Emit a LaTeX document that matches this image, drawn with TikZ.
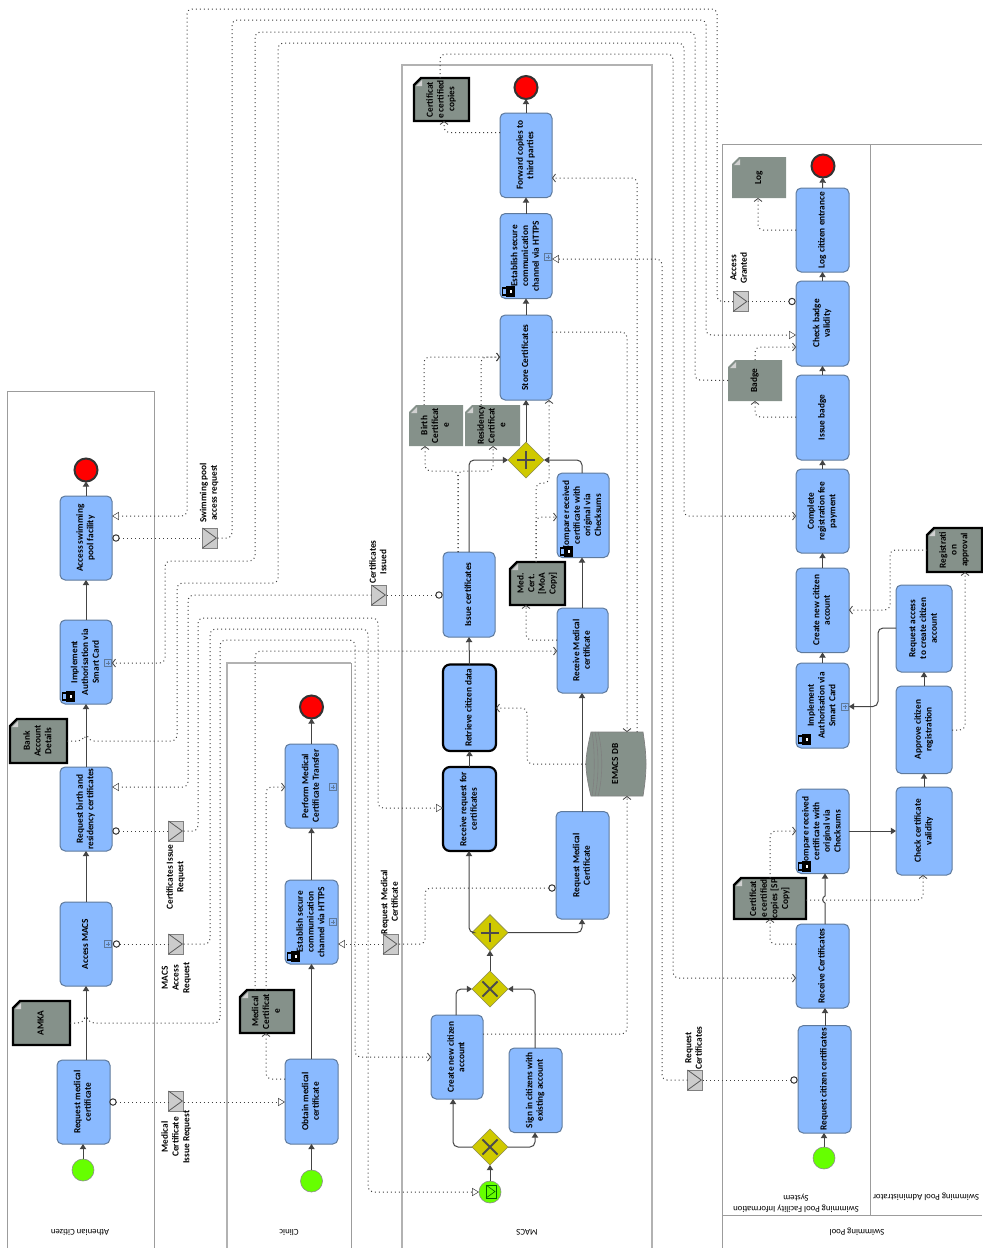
\documentclass[tikz,border=0pt]{standalone}
\usepackage{fontspec}
\setmainfont{Carlito}
\usetikzlibrary{arrows.meta,shapes.geometric,calc}
\definecolor{taskc}{HTML}{8ABAFF}
\definecolor{taskb}{HTML}{5F7A9C}
\definecolor{docc}{HTML}{85918A}
\definecolor{gatec}{HTML}{CFC900}
\definecolor{gateb}{HTML}{8C8C50}
\definecolor{lanec}{HTML}{9C9C9C}
\definecolor{flowc}{HTML}{444444}
\tikzset{
 taskbox/.style={draw=taskb,fill=taskc,line width=.5pt,rounded corners=2.6pt,inner sep=0pt,outer sep=0pt},
 thicktask/.style={draw=black,line width=1.1pt,rounded corners=3.5pt},
 labelnode/.style={inner sep=0pt,outer sep=0pt},
 envbox/.style={draw=black!50,fill=black!20,line width=.4pt,inner sep=0pt,outer sep=0pt,minimum width=7.5pt,minimum height=10pt},
 startev/.style={circle,draw=black!45,line width=.3pt,minimum size=11pt,inner sep=0pt,outer sep=0pt,fill={rgb,255:red,102;green,255;blue,0}},
 endev/.style={circle,draw=black!80,fill=red,line width=1pt,minimum size=11.5pt,inner sep=0pt,outer sep=0pt},
 gateway/.style={diamond,aspect=1,draw=gateb,fill=gatec,line width=.3pt,minimum size=18pt,inner sep=0pt,outer sep=0pt},
 gatemark/.style={draw=black!70,line width=.9pt},
 flow/.style={draw=flowc,line width=.5pt,rounded corners=2.5pt,-{Triangle[length=2.6pt,width=3.2pt]}},
 msgbase/.style={draw=black!75,line width=.5pt,rounded corners=2.5pt,dash pattern=on .5pt off 1.5pt},
 msg/.style={msgbase,-{Triangle[open,fill=white,length=3.4pt,width=4pt,line width=.25pt]}},
 assoc/.style={msgbase,-{Straight Barb[length=1.5pt,width=4pt,line width=.4pt]}},
 plainmsg/.style={msgbase},
 mcirc/.style={circle,draw=black!80,fill=white,line width=.5pt,minimum size=3.2pt,inner sep=0pt,outer sep=0pt},
 lane/.style={draw=lanec,line width=.5pt},
 lanelt/.style={draw=black!30,line width=.6pt},
}
\newcommand{\txt}[1]{\rotatebox{90}{\fontsize{4.65}{5.35}\bfseries\selectfont\begin{tabular}{@{}c@{}}#1\end{tabular}}}
\newcommand{\plainlbl}[1]{\fontsize{4.4}{5.35}\selectfont\begin{tabular}{@{}c@{}}#1\end{tabular}}
% task: opts name x1 y1 x2 y2 text
\newcommand{\tsk}[7][]{%
 \pgfmathsetmacro\tkx{(#3+#5)/2}\pgfmathsetmacro\tky{(#4+#6)/2}%
 \pgfmathsetmacro\tkw{(#5-#3)*.5}\pgfmathsetmacro\tkh{(#6-#4)*.5}%
 \node[taskbox,minimum width=\tkw pt,minimum height=\tkh pt,#1] (#2) at (\tkx,\tky) {\txt{#7}};}
% data object: border-style name x1 y1 x2 y2 text
\newcommand{\docn}[7][draw=none]{%
 \pgfmathsetmacro\tkx{(#3+#5)/2}\pgfmathsetmacro\tky{(#4+#6)/2}%
 \pgfmathsetmacro\tkw{(#5-#3)*.5}\pgfmathsetmacro\tkh{(#6-#4)*.5}%
 \path[fill=docc,#1] (#3+7,#4) -- (#5,#4) -- (#5,#6) -- (#3,#6) -- (#3,#4+7) -- cycle;
 \fill[black!18] (#3+2,#4+8) -- (#3+8,#4+8) -- (#3+8,#4+2) -- cycle;
 \node[labelnode,minimum width=\tkw pt,minimum height=\tkh pt] (#2) at (\tkx,\tky) {\txt{#7}};}
\newcommand{\envn}[3]{%
 \node[envbox] (#1) at (#2,#3) {};
 \draw[black!65,line width=.4pt] (#1.north west) -- ($(#1.east)+(-.6pt,0)$) -- (#1.south west);}
\newcommand{\lockn}[2]{% top-left x y of icon
 \fill[black] (#1+4,#2) rectangle (#1+13,#2+11);
 \draw[black,line width=.6pt] (#1+4,#2+2) -- (#1+.6,#2+2) -- (#1+.6,#2+9) -- (#1+4,#2+9);
 \fill[white] (#1+7.5,#2+4) rectangle (#1+10,#2+7);}
\newcommand{\subm}[2]{%
 \draw[taskb,line width=.35pt] (#1-3.5,#2-3.5) rectangle (#1+3.5,#2+3.5);
 \draw[taskb,line width=.3pt] (#1-2,#2) -- (#1+2,#2) (#1,#2-2) -- (#1,#2+2);}
\newcommand{\plusm}[1]{\draw[gatemark] ($(#1.center)+(-4.6pt,0)$) -- ($(#1.center)+(4.6pt,0)$) ($(#1.center)+(0,-4.6pt)$) -- ($(#1.center)+(0,4.6pt)$);}
\newcommand{\crossm}[1]{\draw[gatemark] ($(#1.center)+(-3.8pt,-3.8pt)$) -- ($(#1.center)+(3.8pt,3.8pt)$) ($(#1.center)+(-3.8pt,3.8pt)$) -- ($(#1.center)+(3.8pt,-3.8pt)$);}
\begin{document}
\begin{tikzpicture}[x=.5pt,y=-.5pt]
\useasboundingbox[fill=white] (0,0) rectangle (982,1248);
% lanes
\draw[lane] (7,1248) -- (7,391) -- (154,391) -- (154,1248);
\draw[lanelt] (227,1248) -- (227,663) -- (351,663);
\draw[lane] (351,663) -- (351,1248);
\draw[lanelt] (402,1248) -- (402,65) -- (652,65) -- (652,1248);
\draw[lane] (722,1248) -- (722,144) -- (982,144);
\draw[lane] (870,144) -- (870,1215);
\draw[lane] (722,1215) -- (982,1215);
\node[labelnode,rotate=180] (lA) at (80,1232) {\plainlbl{Athenian Citizen}};
\node[labelnode,rotate=180] (lB) at (289,1232) {\plainlbl{Clinic}};
\node[labelnode,rotate=180] (lC) at (527,1232) {\plainlbl{MACS}};
\node[labelnode,rotate=180] (lD) at (796,1203) {\plainlbl{Swimming Pool Facility Information\\System}};
\node[labelnode,rotate=180] (lE) at (926,1197) {\plainlbl{Swimming Pool Administrator}};
\node[labelnode,rotate=180] (lF) at (857,1232) {\plainlbl{Swimming Pool}};
% Athenian citizen
\node[startev] (s1) at (83,1170) {};
\tsk{a1}{57}{1060}{110}{1144}{Request medical\\certificate}
\tsk{a2}{60}{902}{112}{986}{Access MACS}
\tsk{a3}{60}{767}{112}{851}{Request birth and\\residency certificates}
\tsk{a4}{60}{620}{112}{704}{Implement\\Authorisation via\\Smart Card}
\tsk{a5}{60}{496}{112}{580}{Access swimming\\pool facility}
\node[endev] (e1) at (86,470) {};
\docn[draw=black,line width=1.2pt]{amka}{13}{1001}{70}{1045}{AMKA}
\docn[draw=black,line width=1.2pt]{bank}{10}{719}{67}{763}{Bank\\Account\\Details}
% Clinic
\node[startev] (s2) at (311.5,1181) {};
\tsk{c1}{285}{1059}{338}{1144}{Obtain medical\\certificate}
\tsk{c2}{285}{880}{338}{964}{Establish secure\\communication\\channel via HTTPS}
\tsk{c3}{285}{744}{338}{828}{Perform Medical\\Certificate Transfer}
\node[endev] (e2) at (311.5,707) {};
\docn[draw=black,line width=1.2pt]{medc}{240}{990}{294}{1033}{Medical\\Certificat\\e}
% MACS
\tsk{m1}{500}{113}{552}{197.5}{Forward copies to\\third parties}
\node[endev] (e3) at (526,87.5) {};
\tsk{m2}{500}{213.5}{552}{298.5}{Establish secure\\communication\\channel via HTTPS}
\tsk{m3}{500}{315}{552}{400}{Store Certificates}
\docn[draw=black,line width=1.2pt]{cop}{414}{78}{469}{121}{Certificat\\e certified\\copies}
\docn{birth}{409}{405}{463}{446}{Birth\\Certificat\\e}
\docn{resi}{465}{405}{520}{446}{Residency\\Certificat\\e}
\node[gateway] (g4) at (526,460) {}; \plusm{g4}
\tsk{m4}{557}{473}{609}{557.5}{Compare received\\certificate with\\original via\\Checksums}
\tsk{m5}{443}{552}{495}{637}{Issue certificates}
\docn[draw=black,line width=1.2pt]{moa}{510}{562}{565}{605}{Med.\\Cert.\\{[}MoA\\Copy{]}}
\tsk{m6}{557}{608}{608}{693}{Receive Medical\\certificate}
\tsk[thicktask]{m7}{443}{664.5}{496}{751}{Retrieve citizen data}
\tsk[thicktask]{m8}{443}{767}{496}{851}{Receive request for\\certificates}
\path[fill=docc,draw=black!50,line width=.35pt] (591,732) -- (643,732) .. controls (645,745) and (646,755) .. (646,764) .. controls (646,773) and (645,784) .. (643,796) -- (591,796) .. controls (588,784) and (586,773) .. (586,764) .. controls (586,755) and (588,745) .. (591,732) -- cycle;
\draw[black!50,line width=.3pt] (592,732) .. controls (595,750) and (595,778) .. (592,796) (595,732) .. controls (599,750) and (599,778) .. (595,796) (598,732) .. controls (603,750) and (603,778) .. (598,796);
\node[labelnode,minimum width=30pt,minimum height=32pt] (db) at (616,764) {\txt{EMACS DB}};
\tsk{m9}{556}{811.5}{609}{919}{Request Medical\\Certificate}
\node[gateway] (g3) at (490,932.6) {}; \plusm{g3}
\node[gateway] (g2) at (490,989) {}; \crossm{g2}
\tsk{m10}{431}{1015}{483}{1099}{Create new citizen\\account}
\tsk{m11}{509}{1048}{562}{1132.5}{Sign in citizens with\\existing account}
\node[gateway] (g1) at (490,1147) {}; \crossm{g1}
\node[startev] (s3) at (490,1192) {};
\draw[green!40!black,line width=.3pt] (486,1185) rectangle (496,1198);
\draw[green!40!black,line width=.3pt] (486,1185) -- (495,1191.5) -- (486,1198);
% Swimming pool
\docn{logd}{732}{157}{786}{198}{Log}
\node[endev] (e4) at (823,166) {};
\tsk{p1}{796}{188}{849}{272}{Log citizen entrance}
\tsk{p2}{796}{281}{849}{366}{Check badge\\validity}
\docn{badge}{728}{360}{782}{401}{Badge}
\tsk{p3}{796}{375}{849}{460}{Issue badge}
\tsk{p4}{796}{469}{849}{553}{Complete\\registration fee\\payment}
\tsk{p5}{796}{568}{849}{652.5}{Create new citizen\\account}
\tsk{p6}{796}{663}{849}{748}{Implement\\Authorisation via\\Smart Card}
\tsk{p7}{796}{789}{849}{873.5}{Compare received\\certificate with\\original via\\Checksums}
\tsk{p8}{796}{924}{849}{1008}{Receive Certificates}
\tsk{p9}{798}{1025.6}{851}{1133}{Request citizen certificates}
\node[startev] (s4) at (824,1158) {};
\docn[draw=black,line width=1.2pt]{spc}{734}{878}{806}{919}{Certificat\\e certified\\copies {[}SP\\Copy{]}}
\docn[draw=black,line width=1.2pt]{regd}{927}{528}{982}{572}{Registrati\\on\\approval}
\tsk{q1}{896}{585}{952}{672}{Request access\\to create citizen\\account}
\tsk{q2}{896}{686}{952}{773.5}{Approve citizen\\registration}
\tsk{q3}{896}{787}{952}{875}{Check certificate\\validity}
% sub-process markers and locks
\subm{108}{944}\subm{108}{663}\subm{333}{922}\subm{333}{787}\subm{548}{257}\subm{845}{706.5}
\lockn{62}{691}\lockn{287}{951}\lockn{560}{546}\lockn{502}{286}\lockn{798}{734}\lockn{798}{861}
% envelopes
\envn{v1}{176}{1101}
\envn{v2}{176}{944}
\envn{v3}{176}{831}
\envn{v4}{210}{538}
\envn{v5}{379}{595}
\envn{v6}{390.5}{944}
\envn{v7}{740.5}{301.5}
\envn{v8}{695}{1080}
\node[labelnode] (t1) at (176.5,1137) {\txt{Medical\\Certificate\\Issue Request}};
\node[labelnode] (t2) at (176.5,978) {\txt{MACS\\Access\\Request}};
\node[labelnode] (t3) at (176,877) {\txt{Certificates Issue\\Request}};
\node[labelnode] (t4) at (209.5,493) {\txt{Swimming pool\\access request}};
\node[labelnode] (t5) at (379,562) {\txt{Certificates\\Issued}};
\node[labelnode] (t6) at (390.5,902) {\txt{Request Medical\\Certificate}};
\node[labelnode] (t7) at (739.5,268) {\txt{Access\\Granted}};
\node[labelnode] (t8) at (694.5,1048) {\txt{Request\\Certificates}};
% message-flow start circles
\node[mcirc] (o1) at (113,1102) {};
\node[mcirc] (o2) at (116.5,944) {};
\node[mcirc] (o3) at (116,831) {};
\node[mcirc] (o4) at (116,538) {};
\node[mcirc] (o5) at (439,595) {};
\node[mcirc] (o6) at (552,888) {};
\node[mcirc] (o7) at (792,301.5) {};
\node[mcirc] (o8) at (794,1080) {};
% sequence flows
\draw[flow] (s1) -- (s1 |- a1.south);
\draw[flow] (a1.north -| a2) -- (a2.south);
\draw[flow] (a2.north) -- (a3.south);
\draw[flow] (a3.north) -- (a4.south);
\draw[flow] (a4.north) -- (a5.south);
\draw[flow] (a5.north) -- (e1);
\draw[flow] (s2) -- (s2 |- c1.south);
\draw[flow] (c1.north) -- (c2.south);
\draw[flow] (c2.north) -- (c3.south);
\draw[flow] (c3.north) -- (e2);
\draw[flow] (s3) -- (g1);
\draw[flow] (g1.west) -- (453,1147) -- (453,1099);
\draw[flow] (g1.east) -- (535,1147) -- (535,1132.5);
\draw[flow] (456,1015) -- (456,989) -- (g2.west);
\draw[flow] (535,1048) -- (535,989) -- (g2.east);
\draw[flow] (g2) -- (g3);
\draw[flow] (g3.west) -- (469,932.6) -- (m8.south -| 469,0);
\draw[flow] (g3.east) -- (582,932.6) -- (m9.south -| 582,0);
\draw[flow] (m8.north) -- (m7.south);
\draw[flow] (m7.north) -- (m5.south);
\draw[flow] (m9.north -| 582,0) -- (m6.south -| 582,0);
\draw[flow] (m6.north -| 582,0) -- (m4.south -| 582,0);
\draw[flow] (m5.north) -- (469,460) -- (g4.west);
\draw[flow] (m4.north -| 582,0) -- (582,460) -- (g4.east);
\draw[flow] (g4) -- (m3.south);
\draw[flow] (m3.north) -- (m2.south);
\draw[flow] (m2.north) -- (m1.south);
\draw[flow] (m1.north) -- (e3);
\draw[flow] (s4) -- (s4 |- p9.south);
\draw[flow] (p9.north -| 825,0) -- (p8.south -| 825,0);
\draw[flow,rounded corners=0pt] (p8.north -| 825,0) -- (825,903) .. controls (822,902) and (822,897) .. (825,896) -- (p7.south -| 825,0);
\draw[flow] (p7.east |- 0,831) -- (q3.west |- 0,831);
\draw[flow] (q3.north) -- (q2.south);
\draw[flow] (q2.north) -- (q1.south);
\draw[flow] (q1.west |- 0,628) -- (878,628) -- (878,706.5) -- (p6.east |- 0,706.5);
\draw[flow] (p6.north) -- (p5.south);
\draw[flow] (p5.north) -- (p4.south);
\draw[flow] (p4.north) -- (p3.south);
\draw[flow] (p3.north) -- (p2.south);
\draw[flow] (p2.north) -- (p1.south);
\draw[flow] (p1.north) -- (e4);
% message flows
\draw[plainmsg] (o1) -- (v1.west |- o1);
\draw[msg] (v1.east |- o1) -- (c1.west |- o1);
\draw[plainmsg] (o2) -- (v2.west);
\draw[msg] (v2.east) -- (210,944) -- (210,629) -- (368,629) -- (368,1192) -- (s3.west);
\draw[plainmsg] (o3) -- (v3.west);
\draw[msg] (v3.east) -- (198,831) -- (198,618) -- (378,618) -- (378,808) -- (m8.west |- 0,808);
\draw[plainmsg] (o4) -- (v4.west);
\draw[msg] (v4.east) -- (232,538) -- (232,20) -- (706,20) -- (706,335) -- (p2.west |- 0,335);
\draw[plainmsg] (o5) -- (v5.east);
\draw[msg] (v5.west) -- (188,595) -- (188,787) -- (a3.east |- 0,787);
\draw[plainmsg] (o6) -- (425,888) -- (425,944) -- (v6.east);
\draw[msg] (v6.west) -- (c2.east |- v6);
\draw[plainmsg] (o7) -- (v7.east);
\draw[msg] (v7.west) -- (717,301.5) -- (717,9) -- (187,9) -- (187,516) -- (a5.east |- 0,516);
\draw[plainmsg] (o8) -- (v8.east);
\draw[msg] (v8.west) -- (662,1080) -- (662,259) -- (m2.east |- 0,259);
% associations
\draw[assoc] (amka.east |- 0,1023) -- (83,1023) .. controls (84,1020) and (88,1020) .. (89,1023) -- (220,1023) -- (220,640) -- (355,640) -- (355,1057) -- (m10.west |- 0,1057);
\draw[assoc] (bank.east |- 0,741) -- (83,741) .. controls (84,738) and (88,738) .. (89,741) -- (177,741) -- (177,583) -- (278,583) -- (278,43) -- (684,43) -- (684,516) -- (p4.west |- 0,516);
\draw[assoc] (c1.west |- 0,1079) -- (266,1079) -- (266,1033);
\draw[assoc] (medc.north -| 266,0) -- (266,787) -- (c3.west |- 0,787);
\draw[assoc] (medc.north -| 255,0) -- (255,651) -- (m6.west |- 0,651);
\draw[assoc] (badge.west) -- (695,380) -- (695,32) -- (255,32) -- (255,561) -- (165,561) -- (165,663) -- (a4.east |- 0,663);
\draw[assoc] (cop.north -| 440,0) -- (440,54) -- (673,54) -- (673,978) -- (p8.west |- 0,978);
\draw[assoc] (m1.west |- 0,132.5) -- (444,132.5) -- (444,121);
\draw[assoc] (m3.east |- 0,332) -- (627,332) -- (627,732);
\draw[assoc] (637,732) -- (637,178) -- (m1.east |- 0,178);
\draw[assoc] (586,764) -- (527,764) -- (527,708) -- (m7.east |- 0,708);
\draw[assoc] (m10.east |- 0,1034) -- (627,1034) -- (627,796);
\draw[assoc] (m6.west |- 0,640) -- (526,640) -- (526,605);
\draw[assoc] (536,562) -- (536,517) -- (m4.west |- 0,517);
\draw[assoc] (536,562) -- (536,483) -- (549,483) -- (549,400);
\draw[assoc] (458,552) -- (458,471) -- (425,471) -- (425,446);
\draw[assoc] (458,552) -- (458,471) -- (493,471) -- (493,446);
\draw[assoc] (424,405) -- (424,357) -- (m3.west |- 0,357);
\draw[assoc] (481,405) -- (481,357) -- (m3.west |- 0,357);
\draw[assoc] (p8.west |- 0,944) -- (770,944) -- (770,919);
\draw[assoc] (770,878) -- (770,831) -- (p7.west |- 0,831);
\draw[assoc] (spc.east |- 0,900) -- (923,900) -- (923,875);
\draw[assoc] (p3.west |- 0,417) -- (755,417) -- (755,401);
\draw[assoc] (755,360) -- (755,347) -- (p2.west |- 0,347);
\draw[assoc] (p1.west |- 0,230) -- (758,230) -- (758,198);
\draw[assoc] (q2.east |- 0,730) -- (965,730) -- (965,572);
\draw[assoc] (regd.west |- 0,550) -- (890,550) -- (890,610) -- (p5.east |- 0,610);
\end{tikzpicture}
\end{document}
